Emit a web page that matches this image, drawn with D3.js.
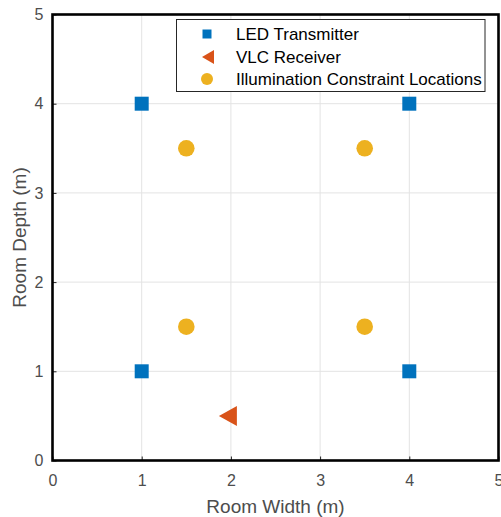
<!DOCTYPE html>
<html><head><meta charset="utf-8">
<script src="https://cdn.jsdelivr.net/npm/d3@7"></script>
<style>body{margin:0;background:#fff}svg{display:block}text{font-family:"Liberation Sans",Arial,sans-serif}</style>
</head><body><svg id="c" width="501" height="517"></svg>
<script>
const ledX = [1, 1, 4, 4];
const ledY = [1, 4, 1, 4];
const rxX = [2];
const rxY = [0.5];
const illumX = [1.5, 1.5, 3.5, 3.5];
const illumY = [1.5, 3.5, 1.5, 3.5];
const ticks = [0, 1, 2, 3, 4, 5];
const legendLabels = ["LED Transmitter", "VLC Receiver", "Illumination Constraint Locations"];
const colors = ["#0072BD", "#D95319", "#EDB120"];

const svg = d3.select("#c");
const x = d3.scaleLinear().domain([0, 5]).range([52.5, 498.5]);
const y = d3.scaleLinear().domain([0, 5]).range([460.5, 14.5]);

// grid
svg.append("g").selectAll("line.gx").data(ticks.slice(1, -1)).join("line")
  .attr("x1", d => x(d)).attr("x2", d => x(d)).attr("y1", y(0)).attr("y2", y(5))
  .attr("stroke", "#e3e3e3").attr("stroke-width", 1);
svg.append("g").selectAll("line.gy").data(ticks.slice(1, -1)).join("line")
  .attr("y1", d => y(d)).attr("y2", d => y(d)).attr("x1", x(0)).attr("x2", x(5))
  .attr("stroke", "#e3e3e3").attr("stroke-width", 1);

// axes
const xa = svg.append("g").attr("transform", `translate(0,${y(0)})`)
  .call(d3.axisBottom(x).tickValues(ticks).tickSize(-4).tickPadding(14).tickFormat(d3.format("d")));
const ya = svg.append("g").attr("transform", `translate(${x(0)},0)`)
  .call(d3.axisLeft(y).tickValues(ticks).tickSize(-4).tickPadding(9).tickFormat(d3.format("d")));
[xa, ya].forEach(a => {
  a.select(".domain").remove();
  a.selectAll(".tick line").attr("stroke", "#222");
  a.selectAll(".tick text").attr("fill", "#4d4d4d").style("font-size", "16px");
});

// frame
svg.append("rect").attr("x", x(0)).attr("y", y(5)).attr("width", x(5) - x(0)).attr("height", y(0) - y(5))
  .attr("fill", "none").attr("stroke", "#000").attr("stroke-width", 2.6);

// labels
svg.append("text").attr("x", 275.5).attr("y", 513).attr("text-anchor", "middle")
  .attr("fill", "#4d4d4d").style("font-size", "19px").text("Room Width (m)");
svg.append("text").attr("transform", `translate(25.5,${(y(0) + y(5)) / 2}) rotate(-90)`).attr("text-anchor", "middle")
  .attr("fill", "#4d4d4d").style("font-size", "19px").text("Room Depth (m)");

// markers
const sq = d3.symbol().type(d3.symbolSquare).size(14 * 14);
const circ = d3.symbol().type(d3.symbolCircle).size(Math.PI * 8.3 * 8.3);
function tri(w, h) { return `M${-w*2/3},0L${w/3},${-h/2}L${w/3},${h/2}Z`; }

svg.append("g").selectAll("path").data(illumX.map((v, i) => [v, illumY[i]])).join("path")
  .attr("d", circ).attr("transform", d => `translate(${x(d[0])},${y(d[1])})`).attr("fill", colors[2]);
svg.append("g").selectAll("path").data(ledX.map((v, i) => [v, ledY[i]])).join("path")
  .attr("d", sq).attr("transform", d => `translate(${x(d[0])},${y(d[1])})`).attr("fill", colors[0]);
svg.append("g").selectAll("path").data(rxX.map((v, i) => [v, rxY[i]])).join("path")
  .attr("d", tri(18, 20)).attr("transform", d => `translate(${x(d[0])},${y(d[1])})`).attr("fill", colors[1]);

// legend
const lg = svg.append("g");
lg.append("rect").attr("x", 176.5).attr("y", 19.5).attr("width", 308.5).attr("height", 72)
  .attr("fill", "#fff").attr("stroke", "#262626").attr("stroke-width", 1);
const rowsY = [34, 57, 79];
const legSyms = [d3.symbol().type(d3.symbolSquare).size(9 * 9)(), tri(12, 14), d3.symbol().type(d3.symbolCircle).size(Math.PI * 6 * 6)()];
legendLabels.forEach((t, i) => {
  lg.append("path").attr("d", legSyms[i]).attr("transform", `translate(${i === 1 ? 210 : 207},${rowsY[i]})`).attr("fill", colors[i]);
  lg.append("text").attr("x", 236).attr("y", rowsY[i]).attr("dy", "0.36em").attr("fill", "#000")
    .style("font-size", "17px").text(t);
});
</script></body></html>
